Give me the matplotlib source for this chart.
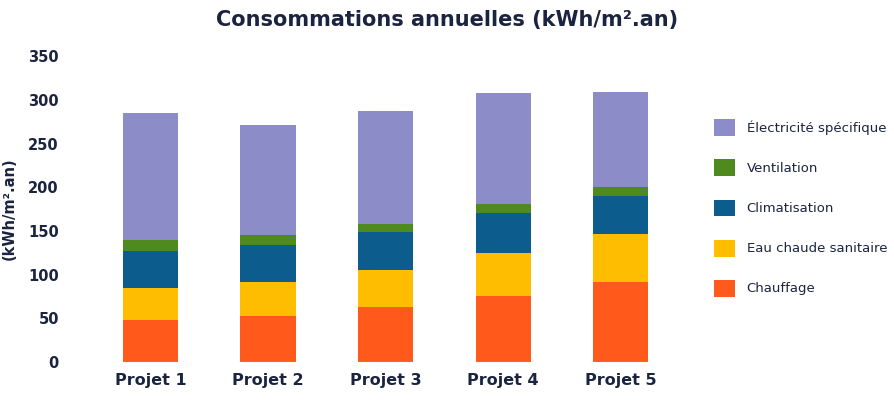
import matplotlib
matplotlib.use("Agg")
import matplotlib.pyplot as plt
import numpy as np

projets = ["Projet 1", "Projet 2", "Projet 3", "Projet 4", "Projet 5"]
chauffage = [48, 52, 63, 76, 92]
ecs = [37, 39, 42, 49, 55]
climatisation = [42, 43, 44, 46, 43]
ventilation = [13, 11, 9, 10, 10]
electricite = [145, 126, 129, 127, 109]

series = [
    ("Chauffage", chauffage, "#FF5A1C"),
    ("Eau chaude sanitaire", ecs, "#FFBD00"),
    ("Climatisation", climatisation, "#0D5C8E"),
    ("Ventilation", ventilation, "#4F8A1E"),
    ("Électricité spécifique", electricite, "#8C8CC9"),
]

fig = plt.figure(figsize=(8.94, 4.16), dpi=100)
ax = fig.add_axes([0.1, 0.13, 0.66, 0.735])
x = np.arange(len(projets))
bottom = np.zeros(len(projets))
handles = []
for name, vals, col in series:
    h = ax.bar(x, vals, 0.47, bottom=bottom, color=col, label=name)
    handles.append(h)
    bottom += np.array(vals)

ax.set_ylim(0, 350)
ax.set_yticks(range(0, 351, 50))
ax.set_xlim(-0.52, 4.5)
ax.set_xticks(x)
ax.set_xticklabels(projets, fontsize=11.5, fontweight="bold", color="#1a2340")
ax.tick_params(axis="y", labelsize=10.5, colors="#1a2340", length=0, pad=22)
ax.tick_params(axis="x", length=0, pad=8)
for lab in ax.get_yticklabels():
    lab.set_fontweight("bold")
for s in ax.spines.values():
    s.set_visible(False)
ax.axhline(0, color="#dddddd", lw=0.8)
ax.set_ylabel("(kWh/m².an)", fontsize=10.5, fontweight="bold", color="#1a2340", labelpad=8)
fig.suptitle("Consommations annuelles (kWh/m².an)", fontsize=15, fontweight="bold",
             color="#1a2340", x=0.5, y=0.975)
leg = fig.legend(handles[::-1], [s[0] for s in series][::-1], loc="center left",
                 bbox_to_anchor=(0.785, 0.5), frameon=False, fontsize=9.5,
                 handlelength=1.6, handleheight=1.6, labelspacing=1.75, handletextpad=0.9)
for t in leg.get_texts():
    t.set_color("#1a2340")
fig.savefig("out.png")
